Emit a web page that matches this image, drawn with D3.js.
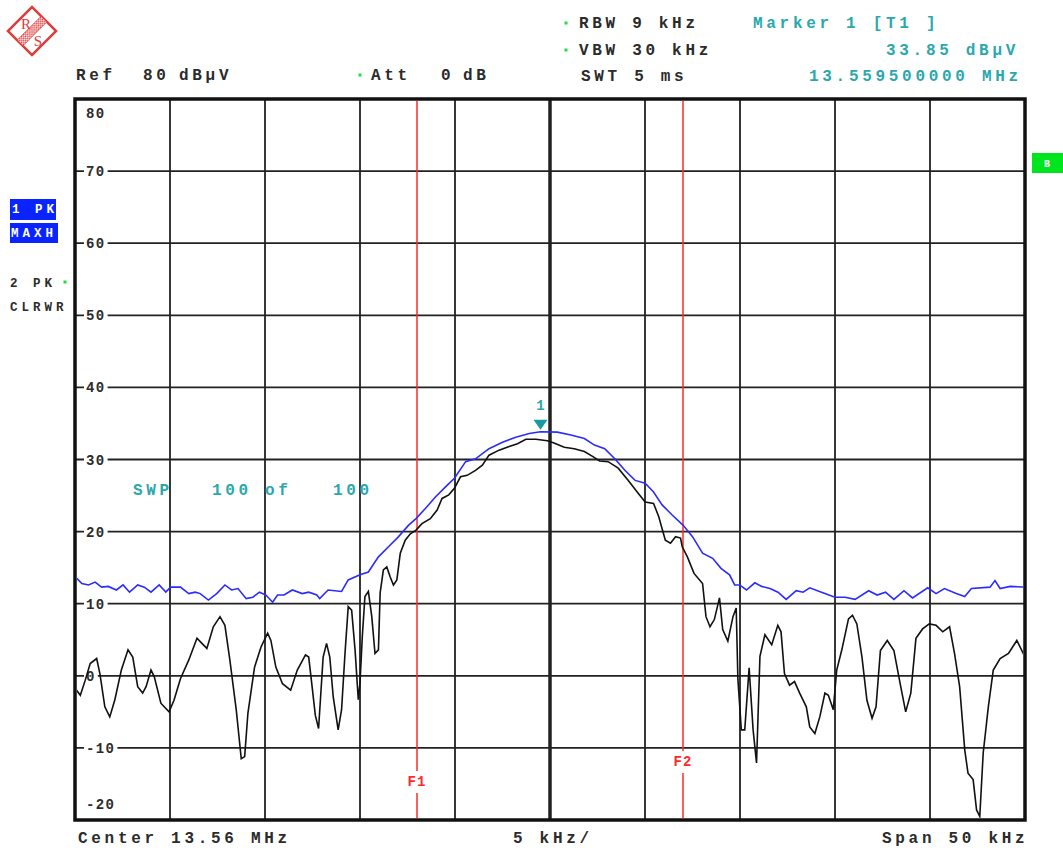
<!DOCTYPE html>
<html>
<head>
<meta charset="UTF-8" />
<title>Spectrum 13.56 MHz</title>
<script src="https://cdnjs.cloudflare.com/ajax/libs/d3/7.8.5/d3.min.js"></script>
<style>
    body { margin: 0; background: #fff; }
    svg { display: block; }
    text { font-family: "Liberation Mono", "DejaVu Sans Mono", monospace; font-weight: bold; }
</style>
</head>
<body>
<script>
// frequency offsets are kHz from the 13.56 MHz centre, levels in dBuV

// trace 2: PK, CLRWR (black)
var clrwrTrace = [
    [-24.98,-1.8],[-24.72,-2.7],[-24.46,-0.6],[-24.20,1.7],[-23.86,2.4],[-23.69,0.3],[-23.43,-4.3],[-23.17,-5.7],
    [-22.91,-3.4],[-22.56,0.8],[-22.21,3.6],[-21.96,2.6],[-21.70,-1.5],[-21.44,-2.4],[-21.26,-1.5],[-21.00,0.8],
    [-20.83,-0.1],[-20.48,-3.8],[-20.05,-5.0],[-19.79,-3.4],[-19.45,-0.4],[-19.01,2.2],[-18.58,5.2],[-18.32,4.5],
    [-18.06,3.8],[-17.72,6.8],[-17.37,8.2],[-17.11,7.0],[-16.85,2.2],[-16.51,-4.8],[-16.25,-11.5],[-16.07,-11.2],
    [-15.90,-5.2],[-15.55,1.2],[-15.21,4.0],[-14.86,5.9],[-14.69,4.9],[-14.43,1.2],[-14.08,-1.1],[-13.65,-2.0],
    [-13.30,0.8],[-12.87,2.9],[-12.70,2.6],[-12.56,-0.6],[-12.35,-5.5],[-12.18,-7.3],[-11.94,2.6],[-11.76,4.5],
    [-11.59,2.6],[-11.41,-2.9],[-11.15,-7.5],[-10.97,-4.7],[-10.79,3.1],[-10.62,9.6],[-10.44,9.1],[-10.26,3.6],
    [-10.09,-3.3],[-10.0,-1.0],[-9.88,5.4],[-9.74,11.0],[-9.56,11.7],[-9.38,8.2],[-9.21,3.1],[-9.03,3.6],
    [-8.94,11.5],[-8.77,14.7],[-8.59,15.1],[-8.41,13.7],[-8.24,12.6],[-8.06,13.3],[-7.88,17.0],[-7.62,18.8],
    [-7.35,19.7],[-7.05,20.2],[-6.74,21.1],[-6.30,21.8],[-5.94,23.0],[-5.68,24.6],[-5.33,25.1],[-5.03,26.0],
    [-4.71,27.6],[-4.36,27.8],[-3.92,28.5],[-3.56,29.2],[-3.21,30.6],[-2.68,31.3],[-2.15,31.8],[-1.71,32.2],
    [-1.27,32.8],[-0.74,32.8],[-0.14,32.6],[0.21,32.3],[0.75,31.7],[1.28,31.5],[1.81,31.1],[2.26,30.4],
    [2.61,29.8],[3.06,29.7],[3.59,28.8],[4.12,27.1],[4.65,25.3],[5.01,24.1],[5.45,23.9],[5.72,22.1],
    [6.07,18.8],[6.34,18.4],[6.61,19.3],[6.87,19.1],[6.96,17.9],[7.23,16.5],[7.58,14.2],[8.03,12.8],
    [8.21,8.2],[8.42,6.8],[8.65,7.8],[8.92,10.8],[9.09,6.4],[9.36,4.8],[9.63,8.2],[9.80,9.4],
    [9.89,-0.5],[10.07,-7.5],[10.25,-7.5],[10.48,1.1],[10.69,-7.5],[10.87,-12.1],[11.05,2.7],[11.31,5.7],
    [11.67,4.3],[11.99,7.0],[12.16,6.1],[12.34,0.3],[12.61,-1.3],[12.87,-0.8],[13.14,-2.4],[13.49,-4.3],
    [13.67,-7.1],[13.94,-8.0],[14.20,-5.7],[14.47,-2.4],[14.65,-2.7],[14.91,-4.7],[15.09,0.8],[15.35,3.5],
    [15.71,7.9],[15.92,8.4],[16.15,7.2],[16.42,2.6],[16.68,-3.4],[16.95,-5.9],[17.16,-4.3],[17.39,3.5],
    [17.75,4.9],[18.10,3.5],[18.46,-1.5],[18.72,-5.0],[18.99,-2.4],[19.26,5.2],[19.61,6.5],[19.96,7.2],
    [20.32,7.0],[20.67,6.1],[21.03,6.8],[21.29,3.1],[21.56,-1.5],[21.83,-10.3],[22.0,-13.5],[22.27,-14.4],
    [22.45,-18.6],[22.62,-19.5],[22.80,-10.7],[23.07,-4.3],[23.33,0.8],[23.69,2.4],[24.13,3.1],[24.57,4.9],
    [25.0,2.6]
];

// trace 1: PK, MAXH (blue)
var maxhTrace = [
    [-24.98,13.7],[-24.64,12.8],[-24.29,12.6],[-23.94,13.0],[-23.60,12.3],[-23.25,12.4],[-22.82,11.9],[-22.47,12.6],
    [-22.13,11.6],[-21.70,12.6],[-21.35,12.3],[-21.00,11.6],[-20.57,12.6],[-20.22,11.6],[-19.97,12.3],[-19.45,12.3],
    [-19.01,11.4],[-18.67,11.6],[-18.41,11.4],[-17.98,10.5],[-17.54,11.4],[-17.11,12.6],[-16.76,11.9],[-16.42,12.1],
    [-15.99,10.7],[-15.64,10.9],[-15.29,11.6],[-14.95,11.2],[-14.60,10.2],[-14.34,11.2],[-14.00,11.2],[-13.56,11.9],
    [-13.04,11.4],[-12.70,11.6],[-12.27,11.2],[-12.12,10.7],[-11.68,11.9],[-10.97,11.7],[-10.62,13.3],[-10.0,14.0],
    [-9.56,14.4],[-9.03,16.5],[-8.50,17.9],[-7.97,19.3],[-7.44,20.9],[-7.05,21.8],[-6.56,23.2],[-6.03,24.8],
    [-5.50,26.2],[-5.03,27.4],[-4.44,29.7],[-3.92,30.1],[-3.21,31.5],[-2.50,32.4],[-1.80,33.1],[-1.09,33.6],
    [-0.50,33.85],[0.39,33.8],[1.10,33.4],[1.81,32.9],[2.34,32.0],[2.88,31.5],[3.41,30.1],[3.94,28.5],
    [4.48,27.1],[5.01,26.7],[5.45,25.5],[5.90,23.7],[6.43,22.3],[7.0,20.9],[7.50,19.3],[8.03,17.0],
    [8.56,16.3],[9.0,14.9],[9.45,14.0],[9.72,12.6],[9.98,12.6],[10.34,11.9],[10.78,12.9],[11.14,12.4],
    [11.58,12.1],[12.0,11.6],[12.43,10.6],[12.96,11.8],[13.32,11.6],[13.67,12.2],[14.29,11.6],[15.0,10.9],
    [15.53,10.9],[16.06,10.6],[16.77,11.8],[17.22,11.2],[17.66,11.6],[18.10,10.6],[18.63,11.8],[19.08,10.8],
    [19.88,12.2],[20.32,11.4],[20.76,12.1],[21.38,11.4],[21.83,11.0],[22.18,12.1],[23.16,12.3],[23.42,13.2],
    [23.69,12.1],[24.22,12.4],[25.0,12.3]
];

var levelTicks = [80, 70, 60, 50, 40, 30, 20, 10, 0, -10, -20];
var freqTicks = [-20, -15, -10, -5, 0, 5, 10, 15, 20];
var limitLines = [{name: "F1", f: -7}, {name: "F2", f: 7}];
var marker1 = {f: -0.5, level: 33.85};

var W = 1063, H = 848;
var dark = "#2b2b2b", teal = "#2aa8ae", blue = "#2b2bff", red = "#ff2a2a";

var x = d3.scaleLinear().domain([-25, 25]).range([75, 1025]);
var y = d3.scaleLinear().domain([-20, 80]).range([820, 99]);

var svg = d3.select("body").append("svg").attr("width", W).attr("height", H);
svg.append("rect").attr("width", W).attr("height", H).attr("fill", "#fff");

// R&S logo
var defs = svg.append("defs");
var pat = defs.append("pattern").attr("id", "hatch").attr("width", 3).attr("height", 3)
    .attr("patternUnits", "userSpaceOnUse");
pat.append("rect").attr("width", 3).attr("height", 3).attr("fill", "#fff");
pat.append("rect").attr("width", 1.5).attr("height", 1.5).attr("fill", "#e03a3a");
pat.append("rect").attr("x", 1.5).attr("y", 1.5).attr("width", 1.5).attr("height", 1.5).attr("fill", "#e03a3a");
var logo = svg.append("g").attr("transform", "translate(32,31)");
var lr = logo.append("g").attr("transform", "rotate(45)");
lr.append("rect").attr("x", -17).attr("y", -17).attr("width", 34).attr("height", 34)
    .attr("fill", "none").attr("stroke", "#e03a3a").attr("stroke-width", 2.5);
lr.append("rect").attr("x", -4).attr("y", -17).attr("width", 8).attr("height", 34)
    .attr("fill", "url(#hatch)").attr("stroke", "#e03a3a").attr("stroke-width", 0.8);
logo.append("text").attr("x", -6).attr("y", -2).attr("text-anchor", "middle")
    .style("font-family", "Liberation Serif").style("font-weight", "normal")
    .style("font-size", "15px").attr("fill", "#e03a3a").text("R");
logo.append("text").attr("x", 6).attr("y", 15).attr("text-anchor", "middle")
    .style("font-family", "Liberation Serif").style("font-weight", "normal")
    .style("font-size", "15px").attr("fill", "#e03a3a").text("S");

// header / footer texts
var infoTexts = [
    {t: "RBW 9 kHz", x: 579, y: 28, c: dark},
    {t: "VBW 30 kHz", x: 579, y: 55, c: dark},
    {t: "SWT 5 ms", x: 581, y: 81, c: dark},
    {t: "Marker 1 [T1 ]", x: 753, y: 28, c: teal},
    {t: "33.85 dBµV", x: 886, y: 55, c: teal},
    {t: "13.559500000 MHz", x: 809, y: 81, c: teal},
    {t: "Ref", x: 76, y: 80, c: dark},
    {t: "80", x: 143, y: 80, c: dark},
    {t: "dBµV", x: 179, y: 80, c: dark},
    {t: "Att", x: 371, y: 80, c: dark},
    {t: "0", x: 441, y: 80, c: dark},
    {t: "dB", x: 463, y: 80, c: dark},
    {t: "Center 13.56 MHz", x: 78, y: 843, c: dark},
    {t: "5 kHz/", x: 513, y: 843, c: dark},
    {t: "Span 50 kHz", x: 882, y: 843, c: dark}
];
svg.selectAll("text.info").data(infoTexts).enter().append("text")
    .attr("class", "info")
    .attr("x", d => d.x).attr("y", d => d.y)
    .attr("fill", d => d.c)
    .style("font-size", "16px").style("letter-spacing", "3.7px")
    .text(d => d.t);

// small green status dots
var dots = [[566, 23], [566, 50], [360, 75], [65, 282]];
svg.selectAll("rect.dot").data(dots).enter().append("rect")
    .attr("class", "dot")
    .attr("x", d => d[0] - 1.5).attr("y", d => d[1] - 1.5)
    .attr("width", 3).attr("height", 3).attr("fill", "#22dd44");

// trace labels on the left
svg.append("rect").attr("x", 10).attr("y", 199).attr("width", 46).attr("height", 21).attr("fill", "#0a24ff");
svg.append("rect").attr("x", 10).attr("y", 223).attr("width", 48).attr("height", 20).attr("fill", "#0a24ff");
var sideTexts = [
    {t: "1 PK", x: 12, y: 213, c: "#fff"},
    {t: "MAXH", x: 11, y: 237, c: "#fff"},
    {t: "2 PK", x: 10, y: 287, c: dark},
    {t: "CLRWR", x: 10, y: 311, c: dark}
];
svg.selectAll("text.side").data(sideTexts).enter().append("text")
    .attr("class", "side")
    .attr("x", d => d.x).attr("y", d => d.y).attr("fill", d => d.c)
    .style("font-size", "12.5px").style("letter-spacing", "4px")
    .text(d => d.t);

// green "B" box on the right
svg.append("rect").attr("x", 1032).attr("y", 153).attr("width", 31).attr("height", 20).attr("fill", "#00e61e");
svg.append("text").attr("x", 1047).attr("y", 167).attr("text-anchor", "middle")
    .attr("fill", "#fff").style("font-size", "10px").text("B");

// grid
var grid = svg.append("g");
grid.selectAll("line.h").data(levelTicks.slice(1, -1)).enter().append("line")
    .attr("x1", x(-25)).attr("x2", x(25))
    .attr("y1", d => y(d)).attr("y2", d => y(d))
    .attr("stroke", "#222").attr("stroke-width", 1.8);
grid.selectAll("line.v").data(freqTicks).enter().append("line")
    .attr("x1", d => x(d)).attr("x2", d => x(d))
    .attr("y1", y(80)).attr("y2", y(-20))
    .attr("stroke", "#222").attr("stroke-width", d => d === 0 ? 3.5 : 1.8);
svg.append("rect").attr("x", x(-25)).attr("y", y(80))
    .attr("width", x(25) - x(-25)).attr("height", y(-20) - y(80))
    .attr("fill", "none").attr("stroke", "#111").attr("stroke-width", 3.5);

// level labels sitting on the grid lines
var lab = svg.append("g");
levelTicks.forEach(function(v) {
    var ly = v === 80 ? y(v) + 19 : v === -20 ? y(v) - 11 : y(v) + 5;
    var g = lab.append("g");
    var t = g.append("text").attr("x", 86).attr("y", ly).attr("fill", dark)
        .style("font-size", "14px").style("letter-spacing", "1.4px").text(v);
    var b = t.node().getBBox();
    g.insert("rect", "text").attr("x", b.x - 2).attr("y", b.y - 1)
        .attr("width", b.width + 4).attr("height", b.height + 2).attr("fill", "#fff");
});

// F1 / F2 display lines
var fl = svg.append("g");
fl.selectAll("line").data(limitLines).enter().append("line")
    .attr("x1", d => x(d.f)).attr("x2", d => x(d.f))
    .attr("y1", y(80) + 2).attr("y2", y(-20) - 2)
    .attr("stroke", red).attr("stroke-width", 1.5);

// traces
defs.append("clipPath").attr("id", "plotclip").append("rect")
    .attr("x", x(-25) + 2).attr("y", y(80) + 2)
    .attr("width", x(25) - x(-25) - 4).attr("height", y(-20) - y(80) - 4);
var line = d3.line().x(d => x(d[0])).y(d => y(d[1]));
var traces = svg.append("g").attr("clip-path", "url(#plotclip)");
traces.append("path").datum(clrwrTrace).attr("d", line)
    .attr("fill", "none").attr("stroke", "#111").attr("stroke-width", 1.6);
traces.append("path").datum(maxhTrace).attr("d", line)
    .attr("fill", "none").attr("stroke", blue).attr("stroke-width", 1.6);

// F labels with white background
limitLines.forEach(function(d, i) {
    var g = fl.append("g");
    var t = g.append("text").attr("x", x(d.f)).attr("y", i === 0 ? 786 : 766)
        .attr("text-anchor", "middle").attr("fill", red)
        .style("font-size", "14px").style("letter-spacing", "1px").text(d.name);
    var b = t.node().getBBox();
    g.insert("rect", "text").attr("x", b.x - 1).attr("y", b.y - 3)
        .attr("width", b.width + 2).attr("height", b.height + 6).attr("fill", "#fff");
});

// marker 1
var mx = x(marker1.f), my = y(marker1.level);
svg.append("path")
    .attr("d", "M" + (mx - 7) + "," + (my - 12) + "L" + (mx + 7) + "," + (my - 12) + "L" + mx + "," + (my - 2) + "Z")
    .attr("fill", "#1a9a9e");
svg.append("text").attr("x", mx).attr("y", my - 22).attr("text-anchor", "middle")
    .attr("fill", teal).style("font-size", "14px").text("1");

// sweep count
var swpTexts = [{t: "SWP", x: 133}, {t: "100", x: 212}, {t: "of", x: 265}, {t: "100", x: 333}];
svg.selectAll("text.swp").data(swpTexts).enter().append("text")
    .attr("class", "swp")
    .attr("x", d => d.x).attr("y", 495).attr("fill", teal)
    .style("font-size", "16px").style("letter-spacing", "3.7px")
    .text(d => d.t);
</script>
</body>
</html>
